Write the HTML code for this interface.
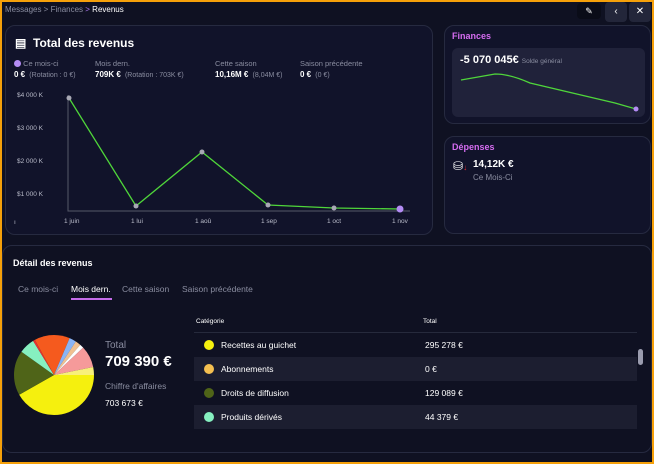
<!DOCTYPE html>
<html><head><meta charset="utf-8"><style>
*{margin:0;padding:0;box-sizing:border-box}
body{width:654px;height:464px;background:#f5a00a;font-family:"Liberation Sans",sans-serif;overflow:hidden;position:relative}
#in{position:absolute;left:2px;top:2px;width:650px;height:460px;background:#0f1122}
.t{position:absolute;white-space:nowrap}
.card{position:absolute;border:1px solid #262a40;border-radius:10px;background:#11132a}
.g{color:#8a8da0}
.w{color:#fff}
</style></head><body><div id="in"></div>
<div class="t g" style="left:5px;top:5px;font-size:8px">Messages &gt; Finances <span style="color:#b07cf5">&gt;</span> <span class="w">Revenus</span></div>
<div style="position:absolute;left:577px;top:3px;width:24px;height:16px;border-radius:4px;background:#0a0c18;color:#fff;font-size:9px;text-align:center;line-height:16px">✎</div>
<div style="position:absolute;left:605px;top:2px;width:22px;height:20px;border-radius:4px;background:#23263a;color:#fff;font-size:10px;text-align:center;line-height:20px">‹</div>
<div style="position:absolute;left:629px;top:2px;width:22px;height:20px;border-radius:4px;background:#23263a;color:#fff;font-size:10px;text-align:center;line-height:20px">✕</div>

<div class="card" style="left:5px;top:25px;width:428px;height:210px"></div>
<div class="t w" style="left:15px;top:36px;font-size:12px;font-weight:bold">▤ &nbsp;Total des revenus</div>
<div class="t g" style="left:14px;top:59px;font-size:7.5px"><span style="display:inline-block;width:7px;height:7px;border-radius:50%;background:#b48cf5;vertical-align:-1px"></span> Ce mois-ci</div>
<div class="t w" style="left:14px;top:70px;font-size:8px"><b>0 €</b> <span class="g" style="font-size:7px">&nbsp;(Rotation : 0 €)</span></div>
<div class="t g" style="left:95px;top:59px;font-size:7.5px">Mois dern.</div>
<div class="t w" style="left:95px;top:70px;font-size:8px"><b>709K €</b> <span class="g" style="font-size:7px">&nbsp;(Rotation : 703K €)</span></div>
<div class="t g" style="left:215px;top:59px;font-size:7.5px">Cette saison</div>
<div class="t w" style="left:215px;top:70px;font-size:8px"><b>10,16M €</b> <span class="g" style="font-size:7px">&nbsp;(8,04M €)</span></div>
<div class="t g" style="left:300px;top:59px;font-size:7.5px">Saison précédente</div>
<div class="t w" style="left:300px;top:70px;font-size:8px"><b>0 €</b> <span class="g" style="font-size:7px">&nbsp;(0 €)</span></div>
<svg style="position:absolute;left:0;top:0" width="440" height="240">
<g fill="#b8bac8" font-size="6.5" font-family="Liberation Sans">
<text x="17" y="97">$4 000 K</text><text x="17" y="130">$3 000 K</text><text x="17" y="163">$2 000 K</text><text x="17" y="196">$1 000 K</text>
<text x="14" y="224">ı</text>
<text x="64" y="223">1 juin</text><text x="131" y="223">1 lui</text><text x="195" y="223">1 aoû</text><text x="261" y="223">1 sep</text><text x="327" y="223">1 oct</text><text x="392" y="223">1 nov</text></g>
<polyline points="68,95 68,211 410,211" fill="none" stroke="#555868" stroke-width="1"/>
<polyline points="69,98 136,206 202,152 268,205 334,208 400,209" fill="none" stroke="#4fd63a" stroke-width="1.3"/>
<g fill="#a8a8b4"><circle cx="69" cy="98" r="2.5"/><circle cx="136" cy="206" r="2.5"/><circle cx="202" cy="152" r="2.5"/><circle cx="268" cy="205" r="2.5"/><circle cx="334" cy="208" r="2.5"/></g>
<circle cx="400" cy="209" r="3.5" fill="#b48cf5"/>
</svg>

<div class="card" style="left:444px;top:25px;width:207px;height:99px"></div>
<div class="t" style="left:452px;top:31px;font-size:9px;font-weight:bold;color:#d56cf0">Finances</div>
<div style="position:absolute;left:452px;top:48px;width:193px;height:69px;border-radius:6px;background:#20223a"></div>
<div class="t w" style="left:460px;top:54px;font-size:11px;font-weight:bold">-5 070 045€ <span class="g" style="font-size:6.5px;font-weight:normal">Solde général</span></div>
<svg style="position:absolute;left:440px;top:0" width="214" height="130"><path d="M21,80 L55,74 Q70,74 90,83 L175,103 L196,109" fill="none" stroke="#4fd63a" stroke-width="1.3"/><circle cx="196" cy="109" r="2.5" fill="#b48cf5"/></svg>

<div class="card" style="left:444px;top:136px;width:207px;height:98px"></div>
<div class="t" style="left:452px;top:142px;font-size:9px;font-weight:bold;color:#d56cf0">Dépenses</div>
<div class="t w" style="left:453px;top:159px;font-size:12px">⛁<span style="color:#e83030;font-size:8px">↓</span></div>
<div class="t w" style="left:473px;top:159px;font-size:10px;font-weight:bold">14,12K €</div>
<div class="t g" style="left:473px;top:173px;font-size:8px">Ce Mois-Ci</div>

<div class="card" style="left:2px;top:245px;width:650px;height:208px;background:#0f1122"></div>
<div class="t w" style="left:13px;top:258px;font-size:9px;font-weight:bold">Détail des revenus</div>
<div class="t g" style="left:18px;top:284px;font-size:8.5px">Ce mois-ci</div>
<div class="t w" style="left:71px;top:284px;font-size:8.5px">Mois dern.</div>
<div style="position:absolute;left:71px;top:298px;width:41px;height:1.5px;background:#c46ce8"></div>
<div class="t g" style="left:122px;top:284px;font-size:8.5px">Cette saison</div>
<div class="t g" style="left:182px;top:284px;font-size:8.5px">Saison précédente</div>
<svg style="position:absolute;left:0;top:0" width="120" height="464"><g fill="none" stroke-width="40" transform="translate(54,375)">
<circle r="20" stroke="#f5f00e" stroke-dasharray="52.4 200" stroke-dashoffset="0"/>
<circle r="20" stroke="#4f6418" stroke-dasharray="22.7 200" stroke-dashoffset="-52.4"/>
<circle r="20" stroke="#86f0c0" stroke-dasharray="8 200" stroke-dashoffset="-75.1"/>
<circle r="20" stroke="#e83030" stroke-dasharray="1 200" stroke-dashoffset="-83.1"/>
<circle r="20" stroke="#f55a1e" stroke-dasharray="18 200" stroke-dashoffset="-84.1"/>
<circle r="20" stroke="#8ab4f5" stroke-dasharray="3.5 200" stroke-dashoffset="-102.1"/>
<circle r="20" stroke="#f0c090" stroke-dasharray="2.8 200" stroke-dashoffset="-105.6"/>
<circle r="20" stroke="#ffffff" stroke-dasharray="2 200" stroke-dashoffset="-108.4"/>
<circle r="20" stroke="#f59a9a" stroke-dasharray="11 200" stroke-dashoffset="-110.4"/>
<circle r="20" stroke="#f8f07a" stroke-dasharray="4.3 200" stroke-dashoffset="-121.4"/>
</g></svg>
<div class="t g" style="left:105px;top:340px;font-size:10px">Total</div>
<div class="t w" style="left:105px;top:353px;font-size:15px;font-weight:bold">709 390 €</div>
<div class="t g" style="left:105px;top:381px;font-size:8.5px">Chiffre d'affaires</div>
<div class="t w" style="left:105px;top:398px;font-size:8.5px">703 673 €</div>
<div class="t w" style="left:196px;top:318px;font-size:6.5px">Catégorie</div>
<div class="t w" style="left:423px;top:318px;font-size:6.5px">Total</div>
<div style="position:absolute;left:194px;top:332px;width:443px;height:1px;background:#262a3c"></div>
<div style="position:absolute;left:194px;top:357px;width:443px;height:24px;background:#1c1e30"></div>
<div style="position:absolute;left:194px;top:405px;width:443px;height:24px;background:#1c1e30"></div>
<div style="position:absolute;left:638px;top:349px;width:5px;height:16px;border-radius:3px;background:#9a9cae"></div>
<div style="position:absolute;left:204px;top:340px;width:10px;height:10px;border-radius:50%;background:#f5f00e"></div>
<div style="position:absolute;left:204px;top:364px;width:10px;height:10px;border-radius:50%;background:#f5c050"></div>
<div style="position:absolute;left:204px;top:388px;width:10px;height:10px;border-radius:50%;background:#4f6418"></div>
<div style="position:absolute;left:204px;top:412px;width:10px;height:10px;border-radius:50%;background:#86f0c0"></div>
<div class="t w" style="left:221px;top:340px;font-size:8.5px">Recettes au guichet</div>
<div class="t w" style="left:221px;top:364px;font-size:8.5px">Abonnements</div>
<div class="t w" style="left:221px;top:388px;font-size:8.5px">Droits de diffusion</div>
<div class="t w" style="left:221px;top:412px;font-size:8.5px">Produits dérivés</div>
<div class="t w" style="left:425px;top:340px;font-size:8.5px">295 278 €</div>
<div class="t w" style="left:425px;top:364px;font-size:8.5px">0 €</div>
<div class="t w" style="left:425px;top:388px;font-size:8.5px">129 089 €</div>
<div class="t w" style="left:425px;top:412px;font-size:8.5px">44 379 €</div>
</body></html>
